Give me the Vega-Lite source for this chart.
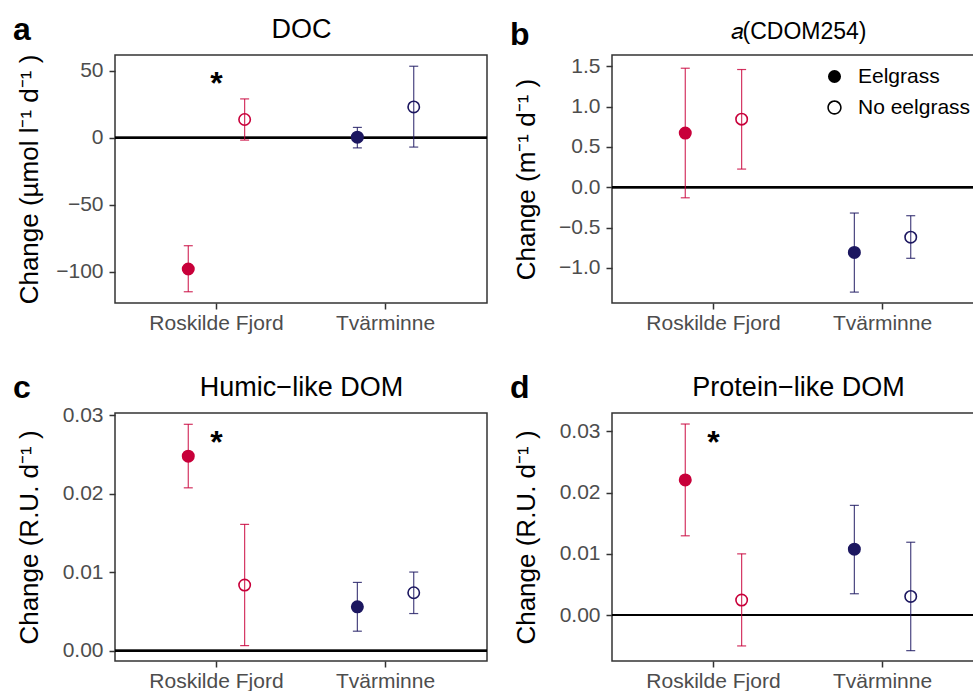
{
  "$schema": "https://vega.github.io/schema/vega-lite/v6.json",
  "background": "white",
  "padding": {"left": 12, "top": 13, "right": 0, "bottom": 0},
  "config": {
    "font": "Liberation Sans",
    "view": {"stroke": "#333333", "strokeWidth": 1.5},
    "axis": {"grid": false, "domain": false, "tickColor": "#333333", "tickWidth": 1.5, "tickSize": 6, "labelPadding": 3, "labelFontSize": 21, "labelColor": "#4D4D4D", "titleFontSize": 26, "titleFontWeight": "normal", "titleColor": "black"},
    "axisY": {"labelPadding": 6},
    "title": {"fontSize": 32, "fontWeight": "bold", "anchor": "start", "frame": "bounds", "color": "black", "baseline": "alphabetic", "offset": -32, "dx": -3}
  },
  "datasets": {
    "doc": [
      {"Site": "Roskilde Fjord", "Treatment": "Eelgrass", "mean": -98, "lo": -115, "hi": -80.6},
      {"Site": "Roskilde Fjord", "Treatment": "No eelgrass", "mean": 13.7, "lo": -1.7, "hi": 29.1},
      {"Site": "Tvärminne", "Treatment": "Eelgrass", "mean": 0.5, "lo": -7.5, "hi": 7.8},
      {"Site": "Tvärminne", "Treatment": "No eelgrass", "mean": 23.1, "lo": -6.9, "hi": 53.5}
    ],
    "cdom": [
      {"Site": "Roskilde Fjord", "Treatment": "Eelgrass", "mean": 0.671, "lo": -0.131, "hi": 1.475},
      {"Site": "Roskilde Fjord", "Treatment": "No eelgrass", "mean": 0.844, "lo": 0.225, "hi": 1.459},
      {"Site": "Tvärminne", "Treatment": "Eelgrass", "mean": -0.808, "lo": -1.3, "hi": -0.32},
      {"Site": "Tvärminne", "Treatment": "No eelgrass", "mean": -0.619, "lo": -0.881, "hi": -0.353}
    ],
    "humic": [
      {"Site": "Roskilde Fjord", "Treatment": "Eelgrass", "mean": 0.0248, "lo": 0.02076, "hi": 0.02886},
      {"Site": "Roskilde Fjord", "Treatment": "No eelgrass", "mean": 0.00836, "lo": 0.00064, "hi": 0.0161},
      {"Site": "Tvärminne", "Treatment": "Eelgrass", "mean": 0.00559, "lo": 0.00248, "hi": 0.0087},
      {"Site": "Tvärminne", "Treatment": "No eelgrass", "mean": 0.00738, "lo": 0.00473, "hi": 0.01002}
    ],
    "protein": [
      {"Site": "Roskilde Fjord", "Treatment": "Eelgrass", "mean": 0.02207, "lo": 0.01295, "hi": 0.0312},
      {"Site": "Roskilde Fjord", "Treatment": "No eelgrass", "mean": 0.00246, "lo": -0.00503, "hi": 0.01},
      {"Site": "Tvärminne", "Treatment": "Eelgrass", "mean": 0.01076, "lo": 0.00349, "hi": 0.01792},
      {"Site": "Tvärminne", "Treatment": "No eelgrass", "mean": 0.00305, "lo": -0.0058, "hi": 0.0119}
    ]
  },
  "spacing": 37,
  "resolve": {"scale": {"fillOpacity": "independent", "shape": "independent"}, "legend": {"shape": "independent"}},
  "vconcat": [
    {
      "spacing": 20,
      "resolve": {"scale": {"fillOpacity": "independent", "shape": "independent"}, "legend": {"shape": "independent"}},
      "hconcat": [
        {
          "width": 372, "height": 248,
          "title": {"text": "a"},
          "data": {"name": "doc"},
          "layer": [
            {"mark": {"type": "rule", "color": "black", "strokeWidth": 2},
             "encoding": {"y": {"datum": 0, "type": "quantitative", "scale": {"domain": [-123.4, 61.9], "nice": false, "zero": false}, "axis": {"title": "Change (µmol l⁻¹ d⁻¹ )", "values": [-100, -50, 0, 50], "titlePadding": 13, "minExtent": 60}}}},
            {"mark": {"type": "rule", "strokeWidth": 1.2, "opacity": 0.8},
             "encoding": {
               "x": {"field": "Site", "type": "nominal", "sort": ["Roskilde Fjord", "Tvärminne"], "axis": {"orient": "top", "title": "DOC", "titleFontSize": 27, "labels": false, "ticks": false, "domain": false, "labelPadding": 0, "titlePadding": 12, "minExtent": 0, "maxExtent": 0}},
               "xOffset": {"field": "Treatment", "type": "nominal", "sort": ["Eelgrass", "No eelgrass"]},
               "y": {"field": "lo", "type": "quantitative"},
               "y2": {"field": "hi"},
               "color": {"field": "Site", "type": "nominal", "scale": {"domain": ["Roskilde Fjord", "Tvärminne"], "range": ["#C8003A", "#1C1760"]}, "legend": null}
             }},
            {"mark": {"type": "tick", "thickness": 1.2, "size": 9, "opacity": 0.8},
             "encoding": {
               "x": {"field": "Site", "type": "nominal", "sort": ["Roskilde Fjord", "Tvärminne"], "axis": null},
               "xOffset": {"field": "Treatment", "type": "nominal", "sort": ["Eelgrass", "No eelgrass"]},
               "y": {"field": "lo", "type": "quantitative"},
               "color": {"field": "Site", "type": "nominal", "legend": null}
             }},
            {"mark": {"type": "tick", "thickness": 1.2, "size": 9, "opacity": 0.8},
             "encoding": {
               "x": {"field": "Site", "type": "nominal", "sort": ["Roskilde Fjord", "Tvärminne"], "axis": null},
               "xOffset": {"field": "Treatment", "type": "nominal", "sort": ["Eelgrass", "No eelgrass"]},
               "y": {"field": "hi", "type": "quantitative"},
               "color": {"field": "Site", "type": "nominal", "legend": null}
             }},
            {"mark": {"type": "point", "shape": "circle", "size": 130, "strokeWidth": 1.6, "opacity": 1},
             "encoding": {
               "x": {"field": "Site", "type": "nominal", "sort": ["Roskilde Fjord", "Tvärminne"], "scale": {"paddingInner": 0, "paddingOuter": 0.1}, "axis": {"orient": "bottom", "title": null, "labelAngle": 0}},
               "xOffset": {"field": "Treatment", "type": "nominal", "sort": ["Eelgrass", "No eelgrass"], "scale": {"type": "point", "padding": 1.157}},
               "y": {"field": "mean", "type": "quantitative"},
               "stroke": {"field": "Site", "type": "nominal", "scale": {"domain": ["Roskilde Fjord", "Tvärminne"], "range": ["#C8003A", "#1C1760"]}, "legend": null},
               "fill": {"field": "Site", "type": "nominal", "scale": {"domain": ["Roskilde Fjord", "Tvärminne"], "range": ["#C8003A", "#1C1760"]}, "legend": null},
               "fillOpacity": {"field": "Treatment", "type": "ordinal", "scale": {"domain": ["Eelgrass", "No eelgrass"], "range": [1, 0]}, "legend": null}
             }},
            {"data": {"values": [{"Site": "Roskilde Fjord", "label": "*", "y": 40}]},
             "mark": {"type": "text", "fontSize": 32, "fontWeight": "bold", "baseline": "middle", "color": "black"},
             "encoding": {
               "x": {"field": "Site", "type": "nominal", "axis": null},
               "y": {"field": "y", "type": "quantitative"},
               "text": {"field": "label"}
             }}
          ]
        },
        {
          "width": 372, "height": 248,
          "title": {"text": "b"},
          "data": {"name": "cdom"},
          "layer": [
            {"mark": {"type": "rule", "color": "black", "strokeWidth": 2},
             "encoding": {"y": {"datum": 0, "type": "quantitative", "scale": {"domain": [-1.435, 1.639], "nice": false, "zero": false}, "axis": {"title": "Change (m⁻¹ d⁻¹ )", "values": [-1, -0.5, 0, 0.5, 1, 1.5], "format": ".1f", "titlePadding": 13, "minExtent": 60}}}},
            {"mark": {"type": "rule", "strokeWidth": 1.2, "opacity": 0.8},
             "encoding": {
               "x": {"field": "Site", "type": "nominal", "sort": ["Roskilde Fjord", "Tvärminne"], "axis": {"orient": "top", "title": "𝑎(CDOM254)", "titleFontSize": 23, "labels": false, "ticks": false, "domain": false, "labelPadding": 0, "titlePadding": 12, "minExtent": 0, "maxExtent": 0}},
               "xOffset": {"field": "Treatment", "type": "nominal", "sort": ["Eelgrass", "No eelgrass"]},
               "y": {"field": "lo", "type": "quantitative"},
               "y2": {"field": "hi"},
               "color": {"field": "Site", "type": "nominal", "scale": {"domain": ["Roskilde Fjord", "Tvärminne"], "range": ["#C8003A", "#1C1760"]}, "legend": null}
             }},
            {"mark": {"type": "tick", "thickness": 1.2, "size": 9, "opacity": 0.8},
             "encoding": {
               "x": {"field": "Site", "type": "nominal", "sort": ["Roskilde Fjord", "Tvärminne"], "axis": null},
               "xOffset": {"field": "Treatment", "type": "nominal", "sort": ["Eelgrass", "No eelgrass"]},
               "y": {"field": "lo", "type": "quantitative"},
               "color": {"field": "Site", "type": "nominal", "legend": null}
             }},
            {"mark": {"type": "tick", "thickness": 1.2, "size": 9, "opacity": 0.8},
             "encoding": {
               "x": {"field": "Site", "type": "nominal", "sort": ["Roskilde Fjord", "Tvärminne"], "axis": null},
               "xOffset": {"field": "Treatment", "type": "nominal", "sort": ["Eelgrass", "No eelgrass"]},
               "y": {"field": "hi", "type": "quantitative"},
               "color": {"field": "Site", "type": "nominal", "legend": null}
             }},
            {"mark": {"type": "point", "shape": "circle", "size": 130, "strokeWidth": 1.6, "opacity": 1},
             "encoding": {
               "x": {"field": "Site", "type": "nominal", "sort": ["Roskilde Fjord", "Tvärminne"], "scale": {"paddingInner": 0, "paddingOuter": 0.1}, "axis": {"orient": "bottom", "title": null, "labelAngle": 0}},
               "xOffset": {"field": "Treatment", "type": "nominal", "sort": ["Eelgrass", "No eelgrass"], "scale": {"type": "point", "padding": 1.157}},
               "y": {"field": "mean", "type": "quantitative"},
               "stroke": {"field": "Site", "type": "nominal", "scale": {"domain": ["Roskilde Fjord", "Tvärminne"], "range": ["#C8003A", "#1C1760"]}, "legend": null},
               "fill": {"field": "Site", "type": "nominal", "scale": {"domain": ["Roskilde Fjord", "Tvärminne"], "range": ["#C8003A", "#1C1760"]}, "legend": null},
               "fillOpacity": {"field": "Treatment", "type": "ordinal", "scale": {"domain": ["Eelgrass", "No eelgrass"], "range": [1, 0]}, "legend": null}
             }},
            {"mark": {"type": "point", "filled": true, "color": "black", "opacity": 0, "size": 10},
             "encoding": {
               "x": {"field": "Site", "type": "nominal", "sort": ["Roskilde Fjord", "Tvärminne"], "axis": null},
               "xOffset": {"field": "Treatment", "type": "nominal", "sort": ["Eelgrass", "No eelgrass"]},
               "y": {"field": "mean", "type": "quantitative"},
               "shape": {"field": "Treatment", "type": "nominal", "scale": {"domain": ["Eelgrass", "No eelgrass"], "range": ["circle", "M-1.1,0A1.1,1.1,0,1,1,1.1,0A1.1,1.1,0,1,1,-1.1,0Z M-0.86,0A0.86,0.86,0,1,0,0.86,0A0.86,0.86,0,1,0,-0.86,0Z"]},
                 "legend": {"orient": "none", "legendX": 212, "legendY": 11, "title": null, "labelFontSize": 21, "labelColor": "black", "symbolSize": 170, "symbolStrokeWidth": 0, "symbolOpacity": 1, "symbolFillColor": "black", "symbolStrokeColor": "black", "labelOffset": 13, "rowPadding": 9, "padding": 0}}
             }}
          ]
        }
      ]
    },
    {
      "spacing": 20,
      "resolve": {"scale": {"fillOpacity": "independent", "shape": "independent"}, "legend": {"shape": "independent"}},
      "hconcat": [
        {
          "width": 372, "height": 248,
          "title": {"text": "c"},
          "data": {"name": "humic"},
          "layer": [
            {"mark": {"type": "rule", "color": "black", "strokeWidth": 2},
             "encoding": {"y": {"datum": 0, "type": "quantitative", "scale": {"domain": [-0.00132, 0.0303], "nice": false, "zero": false}, "axis": {"title": "Change (R.U. d⁻¹ )", "values": [0, 0.01, 0.02, 0.03], "format": ".2f", "titlePadding": 13, "minExtent": 60}}}},
            {"mark": {"type": "rule", "strokeWidth": 1.2, "opacity": 0.8},
             "encoding": {
               "x": {"field": "Site", "type": "nominal", "sort": ["Roskilde Fjord", "Tvärminne"], "axis": {"orient": "top", "title": "Humic−like DOM", "titleFontSize": 27, "labels": false, "ticks": false, "domain": false, "labelPadding": 0, "titlePadding": 12, "minExtent": 0, "maxExtent": 0}},
               "xOffset": {"field": "Treatment", "type": "nominal", "sort": ["Eelgrass", "No eelgrass"]},
               "y": {"field": "lo", "type": "quantitative"},
               "y2": {"field": "hi"},
               "color": {"field": "Site", "type": "nominal", "scale": {"domain": ["Roskilde Fjord", "Tvärminne"], "range": ["#C8003A", "#1C1760"]}, "legend": null}
             }},
            {"mark": {"type": "tick", "thickness": 1.2, "size": 9, "opacity": 0.8},
             "encoding": {
               "x": {"field": "Site", "type": "nominal", "sort": ["Roskilde Fjord", "Tvärminne"], "axis": null},
               "xOffset": {"field": "Treatment", "type": "nominal", "sort": ["Eelgrass", "No eelgrass"]},
               "y": {"field": "lo", "type": "quantitative"},
               "color": {"field": "Site", "type": "nominal", "legend": null}
             }},
            {"mark": {"type": "tick", "thickness": 1.2, "size": 9, "opacity": 0.8},
             "encoding": {
               "x": {"field": "Site", "type": "nominal", "sort": ["Roskilde Fjord", "Tvärminne"], "axis": null},
               "xOffset": {"field": "Treatment", "type": "nominal", "sort": ["Eelgrass", "No eelgrass"]},
               "y": {"field": "hi", "type": "quantitative"},
               "color": {"field": "Site", "type": "nominal", "legend": null}
             }},
            {"mark": {"type": "point", "shape": "circle", "size": 130, "strokeWidth": 1.6, "opacity": 1},
             "encoding": {
               "x": {"field": "Site", "type": "nominal", "sort": ["Roskilde Fjord", "Tvärminne"], "scale": {"paddingInner": 0, "paddingOuter": 0.1}, "axis": {"orient": "bottom", "title": null, "labelAngle": 0}},
               "xOffset": {"field": "Treatment", "type": "nominal", "sort": ["Eelgrass", "No eelgrass"], "scale": {"type": "point", "padding": 1.157}},
               "y": {"field": "mean", "type": "quantitative"},
               "stroke": {"field": "Site", "type": "nominal", "scale": {"domain": ["Roskilde Fjord", "Tvärminne"], "range": ["#C8003A", "#1C1760"]}, "legend": null},
               "fill": {"field": "Site", "type": "nominal", "scale": {"domain": ["Roskilde Fjord", "Tvärminne"], "range": ["#C8003A", "#1C1760"]}, "legend": null},
               "fillOpacity": {"field": "Treatment", "type": "ordinal", "scale": {"domain": ["Eelgrass", "No eelgrass"], "range": [1, 0]}, "legend": null}
             }},
            {"data": {"values": [{"Site": "Roskilde Fjord", "label": "*", "y": 0.02646}]},
             "mark": {"type": "text", "fontSize": 32, "fontWeight": "bold", "baseline": "middle", "color": "black"},
             "encoding": {
               "x": {"field": "Site", "type": "nominal", "axis": null},
               "y": {"field": "y", "type": "quantitative"},
               "text": {"field": "label"}
             }}
          ]
        },
        {
          "width": 372, "height": 248,
          "title": {"text": "d"},
          "data": {"name": "protein"},
          "layer": [
            {"mark": {"type": "rule", "color": "black", "strokeWidth": 2},
             "encoding": {"y": {"datum": 0, "type": "quantitative", "scale": {"domain": [-0.00749, 0.033], "nice": false, "zero": false}, "axis": {"title": "Change (R.U. d⁻¹ )", "values": [0, 0.01, 0.02, 0.03], "format": ".2f", "titlePadding": 13, "minExtent": 60}}}},
            {"mark": {"type": "rule", "strokeWidth": 1.2, "opacity": 0.8},
             "encoding": {
               "x": {"field": "Site", "type": "nominal", "sort": ["Roskilde Fjord", "Tvärminne"], "axis": {"orient": "top", "title": "Protein−like DOM", "titleFontSize": 27, "labels": false, "ticks": false, "domain": false, "labelPadding": 0, "titlePadding": 12, "minExtent": 0, "maxExtent": 0}},
               "xOffset": {"field": "Treatment", "type": "nominal", "sort": ["Eelgrass", "No eelgrass"]},
               "y": {"field": "lo", "type": "quantitative"},
               "y2": {"field": "hi"},
               "color": {"field": "Site", "type": "nominal", "scale": {"domain": ["Roskilde Fjord", "Tvärminne"], "range": ["#C8003A", "#1C1760"]}, "legend": null}
             }},
            {"mark": {"type": "tick", "thickness": 1.2, "size": 9, "opacity": 0.8},
             "encoding": {
               "x": {"field": "Site", "type": "nominal", "sort": ["Roskilde Fjord", "Tvärminne"], "axis": null},
               "xOffset": {"field": "Treatment", "type": "nominal", "sort": ["Eelgrass", "No eelgrass"]},
               "y": {"field": "lo", "type": "quantitative"},
               "color": {"field": "Site", "type": "nominal", "legend": null}
             }},
            {"mark": {"type": "tick", "thickness": 1.2, "size": 9, "opacity": 0.8},
             "encoding": {
               "x": {"field": "Site", "type": "nominal", "sort": ["Roskilde Fjord", "Tvärminne"], "axis": null},
               "xOffset": {"field": "Treatment", "type": "nominal", "sort": ["Eelgrass", "No eelgrass"]},
               "y": {"field": "hi", "type": "quantitative"},
               "color": {"field": "Site", "type": "nominal", "legend": null}
             }},
            {"mark": {"type": "point", "shape": "circle", "size": 130, "strokeWidth": 1.6, "opacity": 1},
             "encoding": {
               "x": {"field": "Site", "type": "nominal", "sort": ["Roskilde Fjord", "Tvärminne"], "scale": {"paddingInner": 0, "paddingOuter": 0.1}, "axis": {"orient": "bottom", "title": null, "labelAngle": 0}},
               "xOffset": {"field": "Treatment", "type": "nominal", "sort": ["Eelgrass", "No eelgrass"], "scale": {"type": "point", "padding": 1.157}},
               "y": {"field": "mean", "type": "quantitative"},
               "stroke": {"field": "Site", "type": "nominal", "scale": {"domain": ["Roskilde Fjord", "Tvärminne"], "range": ["#C8003A", "#1C1760"]}, "legend": null},
               "fill": {"field": "Site", "type": "nominal", "scale": {"domain": ["Roskilde Fjord", "Tvärminne"], "range": ["#C8003A", "#1C1760"]}, "legend": null},
               "fillOpacity": {"field": "Treatment", "type": "ordinal", "scale": {"domain": ["Eelgrass", "No eelgrass"], "range": [1, 0]}, "legend": null}
             }},
            {"data": {"values": [{"Site": "Roskilde Fjord", "label": "*", "y": 0.02813}]},
             "mark": {"type": "text", "fontSize": 32, "fontWeight": "bold", "baseline": "middle", "color": "black"},
             "encoding": {
               "x": {"field": "Site", "type": "nominal", "axis": null},
               "y": {"field": "y", "type": "quantitative"},
               "text": {"field": "label"}
             }}
          ]
        }
      ]
    }
  ]
}
